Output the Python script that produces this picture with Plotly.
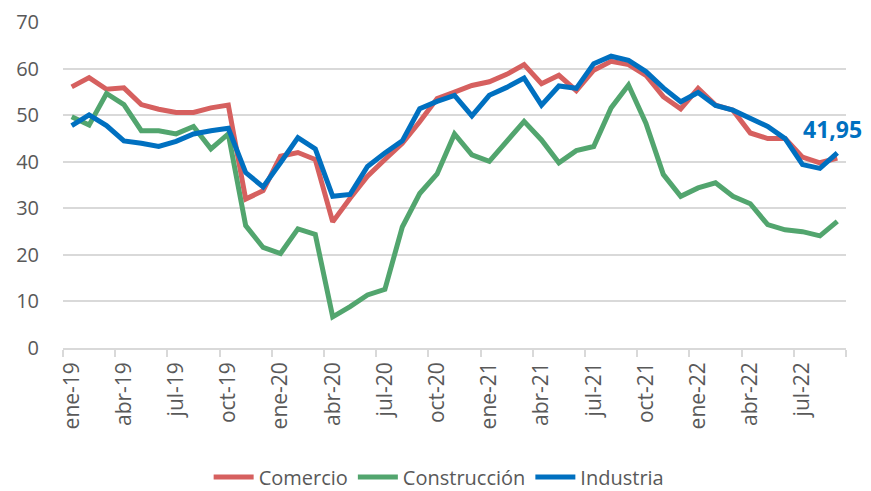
import plotly.graph_objects as go

months = ["ene", "feb", "mar", "abr", "may", "jun", "jul", "ago", "sep", "oct", "nov", "dic"]
categories = [f"{m}-{y}" for y in ["19", "20", "21", "22"] for m in months][:45]

comercio = [56.1, 58.1, 55.6, 55.9, 52.3, 51.3, 50.6, 50.6, 51.6, 52.2,
            32.0, 33.8, 41.2, 42.0, 40.5, 27.1, 32.2, 36.9, 40.5, 44.0,
            48.6, 53.6, 55.0, 56.4, 57.2, 58.8, 60.9, 56.8, 58.6, 55.3,
            59.7, 61.6, 60.9, 58.6, 54.0, 51.4, 55.8, 52.2, 51.1, 46.2,
            45.0, 45.0, 41.0, 39.8, 40.8]
construccion = [49.7, 47.9, 54.7, 52.3, 46.7, 46.7, 46.0, 47.6, 42.8, 46.0,
                26.3, 21.6, 20.3, 25.6, 24.4, 6.7, 8.9, 11.4, 12.6, 26.0,
                33.2, 37.4, 46.0, 41.5, 40.1, 44.4, 48.7, 44.7, 39.8, 42.4,
                43.3, 51.6, 56.5, 48.3, 37.3, 32.6, 34.4, 35.5, 32.6, 31.0,
                26.5, 25.4, 25.0, 24.1, 27.2]
industria = [47.8, 50.1, 47.8, 44.5, 44.0, 43.3, 44.4, 46.0, 46.7, 47.2,
             37.7, 34.6, 39.8, 45.2, 42.8, 32.6, 33.0, 39.0, 41.9, 44.5,
             51.4, 53.0, 54.3, 49.9, 54.3, 56.0, 58.0, 52.2, 56.3, 55.8,
             61.1, 62.7, 61.8, 59.4, 55.9, 52.9, 54.9, 52.1, 51.1, 49.4,
             47.6, 45.0, 39.4, 38.6, 41.95]

series_names = ["Comercio", "Construcción", "Industria"]
colors = ["#D6605F", "#52A56E", "#0070C0"]
label_step = 3

x = list(range(len(categories)))
fig = go.Figure()
for name, vals, col in zip(series_names, [comercio, construccion, industria], colors):
    fig.add_trace(go.Scatter(x=x, y=vals, name=name, mode="lines",
                             line=dict(color=col, width=5)))

tickvals = x[::label_step]
ticktext = categories[::label_step]
boundaries = [v - 0.5 for v in x[::label_step]] + [x[-1] + 0.5]

fig.add_annotation(x=x[-1], y=industria[-1],
                   text=f"<b>{industria[-1]:.2f}</b>".replace(".", ","),
                   showarrow=False, yshift=24, xshift=-5,
                   font=dict(family="Open Sans", size=23, color="#0070C0"))

font_fam = "Open Sans"
fig.update_layout(
    width=871, height=491,
    margin=dict(l=55, r=33, t=14, b=151, autoexpand=False),
    paper_bgcolor="white", plot_bgcolor="white",
    font=dict(family=font_fam, color="#595959"),
    showlegend=True,
    legend=dict(orientation="h", x=0.495, xanchor="center", xref="container",
                y=0.045, yanchor="middle", yref="container",
                font=dict(size=20, color="#595959"), itemwidth=40,
                tracegroupgap=0),
    xaxis=dict(range=[-0.5, x[-1] + 0.5], tickmode="array", tickvals=tickvals,
               ticktext=ticktext, tickangle=-90, ticks="", automargin=False,
               tickfont=dict(size=21, color="#595959"), ticklabelstandoff=4,
               showgrid=False, zeroline=False,
               showline=True, linecolor="#D9D9D9", linewidth=1.5,
               minor=dict(tickmode="array", tickvals=boundaries, ticks="outside",
                          ticklen=7, tickcolor="#D9D9D9", tickwidth=1.5, showgrid=False)),
    yaxis=dict(range=[0, 70.05], tickvals=list(range(0, 71, 10)), automargin=False,
               tickfont=dict(size=20, color="#595959"), ticklabeloverflow="allow",
               showgrid=True, gridcolor="#D9D9D9", gridwidth=1.5,
               zeroline=False, showline=False, ticks="", ticklabelstandoff=23),
)

fig.write_html("out.html")
